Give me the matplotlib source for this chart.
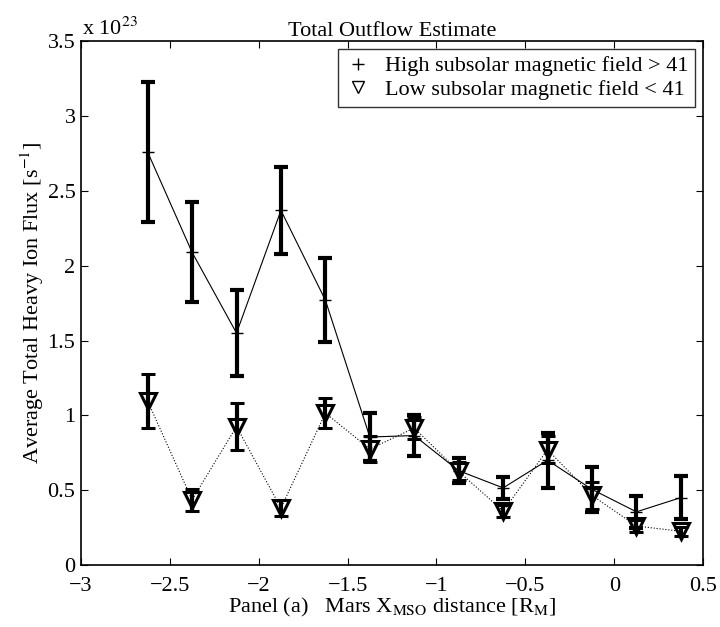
import matplotlib
matplotlib.use("Agg")
import matplotlib.pyplot as plt
from matplotlib.lines import Line2D
import numpy as np

plt.rcParams['font.family'] = ['Liberation Serif', 'DejaVu Serif']
plt.rcParams['mathtext.fontset'] = 'stix'

x_pos = [-2.625, -2.375, -2.125, -1.875, -1.625, -1.375, -1.125,
         -0.875, -0.625, -0.375, -0.125, 0.125, 0.375]

# high subsolar field (units of 1e23 s^-1)
high_val = [2.76, 2.09, 1.55, 2.37, 1.77, 0.855, 0.865, 0.63, 0.515, 0.70, 0.505, 0.355, 0.45]
high_err = [0.47, 0.335, 0.29, 0.29, 0.28, 0.16, 0.135, 0.085, 0.075, 0.185, 0.15, 0.105, 0.145]

# low subsolar field
low_val = [1.095, 0.435, 0.925, 0.38, 1.015, 0.775, 0.915, 0.625, 0.36, 0.77, 0.465, 0.26, 0.225]
low_err = [0.18, 0.075, 0.155, 0.055, 0.10, 0.09, 0.075, 0.06, 0.04, 0.09, 0.09, 0.04, 0.03]

fig = plt.figure(figsize=(7.2, 6.27), dpi=100)
ax = fig.add_axes([0.1125, 0.099, 0.864, 0.835])

ax.plot(x_pos, high_val, color='k', lw=0.8)
ax.errorbar(x_pos, high_val, yerr=high_err, fmt='+', color='k', ms=8,
            elinewidth=3, capsize=5, capthick=3)
ax.plot(x_pos, low_val, color='k', lw=0.8, ls=':')
ax.errorbar(x_pos, low_val, yerr=low_err, fmt='v', color='k', mfc='none', ms=12,
            mew=2.2, elinewidth=3, capsize=5, capthick=3)

ax.set_xlim(-3, 0.5)
ax.set_ylim(0, 3.5)
ax.set_xticks(np.arange(-3, 0.51, 0.5))
ax.set_xticklabels(['\u22123', '\u22122.5', '\u22122', '\u22121.5', '\u22121', '\u22120.5', '0', '0.5'])
ax.set_yticks(np.arange(0, 3.51, 0.5))
ax.set_yticklabels(['0', '0.5', '1', '1.5', '2', '2.5', '3', '3.5'])
ax.tick_params(direction='in', top=True, right=True, labelsize=16, length=5)
ax.tick_params(axis='x', pad=9)
ax.tick_params(axis='y', pad=4)
for s in ax.spines.values():
    s.set_linewidth(1.2)

ax.text(0.002, 1.003, r'x 10$^{23}$', transform=ax.transAxes, fontsize=16,
        ha='left', va='bottom')
ax.set_title('Total Outflow Estimate', fontsize=16, pad=4)
ax.set_ylabel(r'Average Total Heavy Ion Flux [s$^{-1}$]', fontsize=16, labelpad=1)
ax.set_xlabel(r'Panel (a)   Mars X$_{\mathrm{MSO}}$ distance [R$_{\mathrm{M}}$]', fontsize=16, labelpad=0)

handles = [Line2D([], [], ls='none', marker='+', color='k', ms=8),
           Line2D([], [], ls='none', marker='v', color='k', mfc='none', ms=9)]
ax.legend(handles, ['High subsolar magnetic field > 41', 'Low subsolar magnetic field < 41'],
          loc='upper right', fontsize=16, frameon=True, fancybox=False, edgecolor='k',
          borderaxespad=0.35, handlelength=1.2, handletextpad=0.6,
          labelspacing=0.15, borderpad=0.3)
ax.get_legend().get_frame().set_linewidth(1.0)

fig.savefig('out.png', dpi=100)
